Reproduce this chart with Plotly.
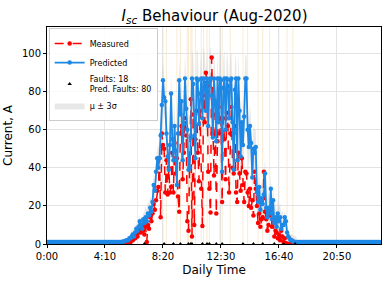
import plotly.graph_objects as go

# 5-minute samples, one row per hour (:00, :05, ..., :55)
predicted_rows = [
    [1.0] * 12,  # 00
    [1.0] * 12,  # 01
    [1.0] * 12,  # 02
    [1.0] * 12,  # 03
    [1.0] * 12,  # 04
    [1.0, 1.0, 1.0, 1.0, 1.1, 1.2, 1.3, 1.5, 1.8, 2.0, 2.0, 3.0],  # 05
    [3, 4, 5, 4, 6, 8, 7, 9, 12, 10, 8, 13],  # 06
    [11, 14, 12, 16, 15, 19, 17, 22, 31, 28, 38, 45],  # 07
    [40, 45, 57, 73, 86, 77, 75, 58, 46, 39, 52, 79],  # 08
    [55, 44, 62, 49, 31, 58, 86, 68, 75, 44, 63, 87],  # 09
    [71, 60, 39, 40, 56, 87, 84, 57, 45, 87, 86, 63],  # 10
    [79, 87, 66, 87, 84, 70, 87, 62, 85, 87, 78, 56],  # 11
    [87, 75, 54, 87, 64, 87, 86, 38, 82, 87, 60, 87],  # 12
    [83, 66, 86, 87, 64, 39, 81, 87, 44, 87, 70, 46],  # 13
    [64, 52, 67, 87, 87, 60, 51, 62, 53, 35, 50, 48],  # 14
    [51, 27, 22, 30, 18, 24, 21, 26, 37, 19, 14, 19],  # 15
    [16, 29, 13, 23, 11, 14, 9, 16, 12, 14, 8, 10],  # 16
    [10, 14, 12, 6, 4, 3, 2, 2, 1.5, 1.2, 1.0, 1.0],  # 17
    [1.0] * 12,  # 18
    [1.0] * 12,  # 19
    [1.0] * 12,  # 20
    [1.0] * 12,  # 21
    [1.0] * 12,  # 22
    [1.0] * 12,  # 23
]

measured_rows = [
    [0] * 12,  # 00
    [0] * 12,  # 01
    [0] * 12,  # 02
    [0] * 12,  # 03
    [0] * 12,  # 04
    [0, 0, 0, 0, 0, 0, 0, 0, 0, 0, 0.5, 1],  # 05
    [1, 2, 2, 3, 3, 5, 4, 6, 8, 6, 9, 7],  # 06
    [5, 9, 1, 10, 8, 14, 12, 16, 21, 18, 23, 28],  # 07
    [30, 45, 14, 58, 52, 50, 27, 44, 26, 40, 27, 30],  # 08
    [48, 27, 53, 37, 45, 25, 17, 58, 62, 34, 48, 66],  # 09
    [57, 12, 7, 40, 76, 4, 68, 10, 55, 70, 48, 33],  # 10
    [70, 29, 9.5, 78, 64, 90, 83, 38, 29, 16.5, 98, 58],  # 11
    [36, 68, 16, 54, 72, 58, 66, 22, 66, 55, 34, 69],  # 12
    [62, 27, 58, 72, 40, 37, 62, 27, 22, 48, 37, 28],  # 13
    [45, 31, 22, 38, 37, 27, 20, 29, 19, 23, 15, 38],  # 14
    [29, 20, 11, 16, 9, 13, 14, 38, 17, 13, 7, 10],  # 15
    [15, 19, 9, 13, 4, 7, 6, 3, 5, 2, 7, 4],  # 16
    [1, 3, 0.5, 0, 0, 0, 0, 0, 0, 0, 0, 0],  # 17
    [0] * 12,  # 18
    [0] * 12,  # 19
    [0] * 12,  # 20
    [0] * 12,  # 21
    [0] * 12,  # 22
    [0] * 12,  # 23
]

# hourly standard deviation of the prediction
sigma_hourly = [0.1, 0.1, 0.1, 0.1, 0.1, 0.3, 1.0, 2.0, 3.5, 4.0, 5.0, 5.5,
                5.0, 4.5, 4.0, 3.0, 2.5, 1.0, 0.1, 0.1, 0.1, 0.1, 0.1, 0.1]

fault_times = [420, 505, 545, 575, 610, 620, 625, 670, 690, 700, 730, 755,
               845, 890, 930, 980, 1020, 1070]
fault_values = [0] * 18
pred_fault_times = [390, 500, 515, 560, 575, 605, 610, 620, 625, 640, 665, 675,
                    690, 700, 745, 755, 790, 845, 865, 910, 930, 960, 1000,
                    1035, 1060]
n_faults = 18
n_pred_faults = 80

tick_vals = [0, 250, 500, 750, 1000, 1250]
tick_text = ["0:00", "4:10", "8:20", "12:30", "16:40", "20:50"]

predicted = [v for row in predicted_rows for v in row]
measured = [v for row in measured_rows for v in row]
minutes = [h * 60 + m * 5 for h in range(24) for m in range(12)]
sig = [sigma_hourly[h] for h in range(24) for m in range(12)]
upper = [p + 3 * s for p, s in zip(predicted, sig)]
lower = [max(p - 3 * s, 0) for p, s in zip(predicted, sig)]

FONT = "DejaVu Sans"
fig = go.Figure()

fig.add_trace(go.Scatter(x=minutes, y=lower, mode="lines", line=dict(width=0),
                         showlegend=False, hoverinfo="skip"))
fig.add_trace(go.Scatter(x=minutes, y=upper, mode="lines", line=dict(width=0),
                         fill="tonexty", fillcolor="rgba(190,190,190,0.35)",
                         name="μ ± 3σ", legendrank=4))
fig.add_trace(go.Scatter(x=minutes, y=measured, mode="lines+markers",
                         line=dict(color="#FF0000", width=1.5, dash="dash"),
                         marker=dict(size=4.5, color="#FF0000"),
                         name="Measured", legendrank=1))
fig.add_trace(go.Scatter(x=minutes, y=predicted, mode="lines+markers",
                         line=dict(color="#1E88E5", width=1.8),
                         marker=dict(size=4.5, color="#1E88E5"),
                         name="Predicted", legendrank=2))
fig.add_trace(go.Scatter(x=fault_times, y=fault_values, mode="markers",
                         marker=dict(symbol="triangle-up", size=4, color="black"),
                         cliponaxis=False,
                         name=f"Faults: {n_faults}<br>Pred. Faults: {n_pred_faults}",
                         legendrank=3))

for t in pred_fault_times:
    fig.add_shape(type="line", xref="x", yref="paper", x0=t, x1=t, y0=0, y1=1,
                  line=dict(color="rgba(240,190,110,0.3)", width=1), layer="below")

fig.update_layout(
    width=388, height=282,
    margin=dict(l=47, r=7, t=27, b=38),
    paper_bgcolor="white", plot_bgcolor="white",
    font=dict(family=FONT, size=10, color="black"),
    title=dict(text="<i>I</i><sub><i>sc</i></sub> Behaviour (Aug-2020)",
               x=0.553, xanchor="center", y=0.943, yanchor="middle",
               font=dict(size=15, family=FONT)),
    showlegend=True,
    legend=dict(x=0.005, y=0.995, xanchor="left", yanchor="top",
                bgcolor="rgba(255,255,255,0.85)", bordercolor="#cccccc",
                borderwidth=1, font=dict(size=8, family=FONT),
                tracegroupgap=0, itemwidth=30, traceorder="normal"),
)
fig.update_xaxes(range=[0, 1440], tickvals=tick_vals, ticktext=tick_text,
                 showgrid=True, gridcolor="#e3e3e3", gridwidth=1,
                 showline=True, linecolor="black", linewidth=1, mirror=True,
                 ticks="outside", ticklen=3, tickcolor="black",
                 tickfont=dict(size=10), zeroline=False,
                 title=dict(text="Daily Time", font=dict(size=12), standoff=4))
fig.update_yaxes(range=[0, 114], tickvals=[0, 20, 40, 60, 80, 100],
                 showgrid=True, gridcolor="#e3e3e3", gridwidth=1,
                 showline=True, linecolor="black", linewidth=1, mirror=True,
                 ticks="outside", ticklen=3, tickcolor="black",
                 tickfont=dict(size=10), zeroline=False,
                 title=dict(text="Current, A", font=dict(size=12), standoff=6))

fig.write_html("out.html", config={"displayModeBar": False},
               post_script="document.body.style.margin='0';document.body.style.overflow='hidden';")
